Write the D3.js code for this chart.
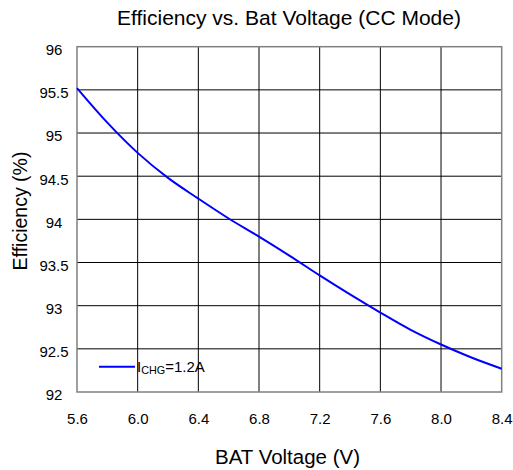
<!DOCTYPE html>
<html>
<head>
<meta charset="utf-8">
<script src="https://cdn.jsdelivr.net/npm/d3@7/dist/d3.min.js"></script>
<style>
  body { margin: 0; background: #fff; }
  svg { display: block; }
  text { font-family: "Liberation Sans", Arial, sans-serif; fill: #000; }
</style>
</head>
<body>
<svg id="chart" width="513" height="470"></svg>
<script>
// ---- data ----
const batVoltage = [5.6, 5.8, 6.0, 6.2, 6.4, 6.6, 6.8, 7.0, 7.2, 7.4, 7.6, 7.8, 8.0, 8.2, 8.4];
const efficiency = [95.52, 95.12, 94.77, 94.48, 94.24, 94.01, 93.80, 93.58, 93.35, 93.13, 92.92, 92.72, 92.55, 92.40, 92.27];
const xTicks = [5.6, 6.0, 6.4, 6.8, 7.2, 7.6, 8.0, 8.4];
const yTicks = [92, 92.5, 93, 93.5, 94, 94.5, 95, 95.5, 96];
const titleText = "Efficiency vs. Bat Voltage (CC Mode)";
const xLabelText = "BAT Voltage (V)";
const yLabelText = "Efficiency (%)";
const seriesName = { main: "I", sub: "CHG", rest: "=1.2A" };

// ---- layout ----
const pLeft = 77, pRight = 501.7, pTop = 46.7, pBottom = 392;
const svg = d3.select("#chart");

const x = d3.scaleLinear().domain([5.6, 8.4]).range([pLeft, pRight]);
const y = d3.scaleLinear().domain([92, 96]).range([pBottom, pTop]);

// grid lines
const grid = svg.append("g");
grid.selectAll("line.v").data(xTicks.slice(1, -1)).join("line")
  .attr("class", "v")
  .attr("x1", d => x(d)).attr("x2", d => x(d))
  .attr("y1", pTop).attr("y2", pBottom)
  .attr("stroke", "#000").attr("stroke-width", 1);
grid.selectAll("line.h").data(yTicks.slice(1, -1)).join("line")
  .attr("class", "h")
  .attr("y1", d => y(d)).attr("y2", d => y(d))
  .attr("x1", pLeft).attr("x2", pRight)
  .attr("stroke", "#000").attr("stroke-width", 1);

// frame
svg.append("rect")
  .attr("x", pLeft).attr("y", pTop)
  .attr("width", pRight - pLeft).attr("height", pBottom - pTop)
  .attr("fill", "none").attr("stroke", "#808080").attr("stroke-width", 1.5);

// axes (labels only)
const xAxis = svg.append("g").attr("transform", `translate(0,${pBottom})`)
  .call(d3.axisBottom(x).tickValues(xTicks).tickFormat(d3.format(".1f")).tickSize(0));
xAxis.select(".domain").remove();
xAxis.selectAll("text")
  .attr("y", 32).attr("dy", null)
  .style("font-size", "15px")
  .style("font-family", "Liberation Sans, Arial, sans-serif");

const yAxis = svg.append("g").attr("transform", `translate(${pLeft},0)`)
  .call(d3.axisLeft(y).tickValues(yTicks).tickFormat(d => String(d)).tickSize(0));
yAxis.select(".domain").remove();
yAxis.selectAll("text")
  .attr("x", -23).attr("dy", "0.52em")
  .attr("text-anchor", "middle")
  .style("font-size", "15px")
  .style("font-family", "Liberation Sans, Arial, sans-serif");

// curve
const line = d3.line()
  .x((d, i) => x(batVoltage[i]))
  .y(d => y(d))
  .curve(d3.curveCatmullRom.alpha(0.5));
svg.append("path")
  .datum(efficiency)
  .attr("d", line)
  .attr("fill", "none")
  .attr("stroke", "#0000ff")
  .attr("stroke-width", 2);

// legend
svg.append("line")
  .attr("x1", 99).attr("x2", 135)
  .attr("y1", 366.7).attr("y2", 366.7)
  .attr("stroke", "#0000ff").attr("stroke-width", 2);
const lt = svg.append("text").attr("x", 137).attr("y", 372).style("font-size", "15px");
lt.append("tspan").text(seriesName.main);
lt.append("tspan").attr("dy", 2).style("font-size", "10.8px").text(seriesName.sub);
lt.append("tspan").attr("dy", -2).text(seriesName.rest);

// title & axis labels
svg.append("text")
  .attr("x", 289).attr("y", 25)
  .attr("text-anchor", "middle")
  .style("font-size", "21px")
  .text(titleText);

svg.append("text")
  .attr("x", 287.5).attr("y", 464)
  .attr("text-anchor", "middle")
  .style("font-size", "20.5px")
  .text(xLabelText);

svg.append("text")
  .attr("transform", "translate(26.7,211) rotate(-90)")
  .attr("text-anchor", "middle")
  .style("font-size", "19.5px")
  .text(yLabelText);
</script>
</body>
</html>
